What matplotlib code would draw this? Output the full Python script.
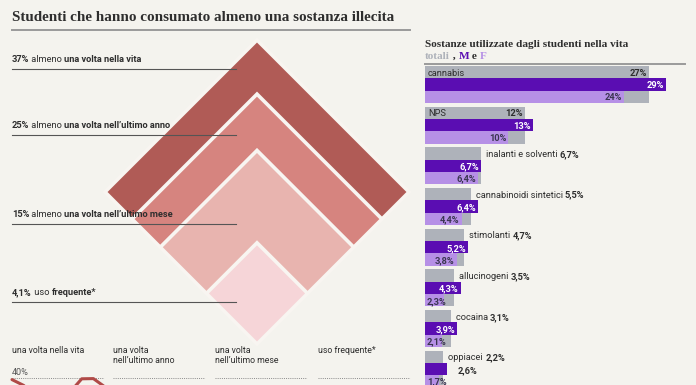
import matplotlib
matplotlib.use('Agg')
import matplotlib.pyplot as plt
from matplotlib.patches import Polygon
import numpy as np

# ---------------- data ----------------
title = "Studenti che hanno consumato almeno una sostanza illecita"
pyr_values = [37, 25, 15, 4.1]
pyr_pct = ["37%", "25%", "15%", "4,1%"]
pyr_pre = [" almeno ", " almeno ", " almeno ", " uso "]
pyr_bold = ["una volta nella vita", "una volta nell\u2019ultimo anno",
            "una volta nell\u2019ultimo mese", "frequente*"]
pyr_colors = ["#b05b56", "#d6847f", "#e8b4af", "#f6d5d8"]

substances = ["cannabis", "NPS", "inalanti e solventi", "cannabinoidi sintetici",
              "stimolanti", "allucinogeni", "cocaina", "oppiacei"]
totals = [27, 12, 6.7, 5.5, 4.7, 3.5, 3.1, 2.2]
males = [29, 13, 6.7, 6.4, 5.2, 4.3, 3.9, 2.6]
females = [24, 10, 6.4, 4.4, 3.8, 2.3, 2.1, 1.7]

trend_labels = ["una volta nella vita", "una volta\nnell\u2019ultimo anno",
                "una volta\nnell\u2019ultimo mese", "uso frequente*"]
trend_life = [39.2, 36.3, 31.0, 29.0, 30.5, 33.0, 39.6, 39.7, 35.5]

# ---------------- style ----------------
W, H = 696, 385
BG = '#f4f3ee'
DARK = '#2e2e2e'
GREY_BAR = '#aeb2ba'
M_COL = '#5a0db2'
F_COL = '#b690e6'
SANS = ['Roboto', 'DejaVu Sans']
SERIF = ['Liberation Serif', 'DejaVu Serif']

def fmt(v):
    if v >= 10:
        return f"{v:.0f}%"
    return f"{v:.1f}%".replace('.', ',')

fig = plt.figure(figsize=(W / 100, H / 100), dpi=100, facecolor=BG)
ax = fig.add_axes([0, 0, 1, 1])
ax.set_xlim(0, W)
ax.set_ylim(H, 0)
ax.axis('off')
ax.set_zorder(5)
renderer = fig.canvas.get_renderer()

def runs(x, y, parts, size, va='baseline', ha='left', zorder=5):
    """parts: list of (text, weight, color). Drawn in main pixel axes."""
    objs = []
    widths = []
    for s, wgt, col in parts:
        t = ax.text(0, y, s, fontsize=size, fontweight=wgt, color=col,
                    family=SANS, va=va, ha='left', zorder=zorder)
        ext = t.get_window_extent(renderer)
        objs.append(t)
        widths.append(ext.width)
    total = sum(widths)
    cx = x - total if ha == 'right' else x
    for t, w in zip(objs, widths):
        t.set_x(cx)
        cx += w
    return total

# ---------------- title ----------------
ax.text(12, 21, title, fontsize=10.9, fontweight='bold', family=SERIF,
        color=DARK, va='baseline')
ax.plot([12, 410], [30, 30], color='#9a9a9a', lw=1.4)

# ---------------- nested diamonds ----------------
cx, by = 257, 344
k = 152 / np.sqrt(pyr_values[0])
for v, col in zip(pyr_values, pyr_colors):
    h = k * np.sqrt(v)
    pts = [(cx, by), (cx + h, by - h), (cx, by - 2 * h), (cx - h, by - h)]
    ax.add_patch(Polygon(pts, closed=True, facecolor=col, edgecolor='#f8f5f1',
                         lw=2.6, zorder=2, joinstyle='miter'))

label_y = [62, 128, 217, 295]
for i in range(4):
    runs(12, label_y[i], [(pyr_pct[i], 'bold', DARK), (pyr_pre[i], 'normal', DARK),
                          (pyr_bold[i], 'bold', DARK)], 6.7, zorder=6)
    ax.plot([12, 236], [label_y[i] + 7, label_y[i] + 7], color='#555555', lw=0.8, zorder=6)

# ---------------- bottom small multiples ----------------
px0 = [12, 113, 215, 318]
for i, lab in enumerate(trend_labels):
    ax.text(px0[i], 346, lab, fontsize=6.3, family=SANS, color=DARK, va='top',
            linespacing=1.1)
    ax.plot([px0[i], px0[i] + 92], [378, 378], color='#8a8a8a', lw=0.7,
            ls=(0, (1, 1.2)))
ax.text(12, 375, "40%", fontsize=6.6, family=SANS, color='#555555', va='baseline')

# line chart axes placed so 40% sits on the dotted line (mostly off-canvas)
tax = fig.add_axes([12 / W, (H - 378 - 60) / H, 93 / W, 60 / H])
tax.set_xlim(0, len(trend_life) - 1)
tax.set_ylim(10, 40)
tax.axis('off')
tax.set_zorder(6)
tax.plot(range(len(trend_life)), trend_life, color='#b04a47', lw=2.2,
         solid_capstyle='round', clip_on=False)

# ---------------- right bar chart ----------------
ax.text(425, 47, "Sostanze utilizzate dagli studenti nella vita", fontsize=8.1,
        fontweight='bold', family=SERIF, color=DARK, va='baseline')
hx = 425
for s, wgt, col in [("totali", 'bold', GREY_BAR), (" , ", 'bold', DARK),
                    ("M", 'bold', M_COL), (" e ", 'bold', DARK), ("F", 'bold', F_COL)]:
    t = ax.text(hx, 59, s, fontsize=8.1, fontweight=wgt, family=SERIF, color=col,
                va='baseline')
    hx += t.get_window_extent(renderer).width
ax.plot([425, 685], [63.5, 63.5], color='#9a9a9a', lw=1.4)

pitch = 3.3
bx0, bx1, by0 = 425, 685, 66
scale = 8.31
bax = fig.add_axes([bx0 / W, 0, (bx1 - bx0) / W, (H - by0) / H])
bax.set_zorder(1)
bax.set_xlim(0, (bx1 - bx0) / scale)
rows_px = 12.33
bax.set_ylim((H - by0) / rows_px, 0)
bax.axis('off')
n = len(substances)
gy = np.arange(n) * pitch
bax.barh(gy + 1.5, totals, height=3, color=GREY_BAR, align='center', zorder=2)
bax.barh(gy + 1.5, males, height=1, color=M_COL, align='center', zorder=3)
bax.barh(gy + 2.5, females, height=1, color=F_COL, align='center', zorder=3)

def to_main(xd, yd):
    d = bax.transData.transform((xd, yd))
    return ax.transData.inverted().transform(d)

LS = 6.7
for i in range(n):
    x_end, y_top = to_main(totals[i], gy[i] + 0.5)
    x_start, _ = to_main(0, 0)
    if totals[i] >= 10:
        runs(x_start + 3, y_top, [(substances[i], 'normal', DARK)], LS, va='center_baseline')
        runs(x_end - 2, y_top, [(fmt(totals[i]), 'bold', DARK)], LS, va='center_baseline', ha='right')
    else:
        runs(x_end + 5, y_top, [(substances[i] + " ", 'normal', DARK),
                                (fmt(totals[i]), 'bold', DARK)], LS, va='center_baseline')
    xm, ym = to_main(males[i], gy[i] + 1.5)
    if males[i] >= 3:
        runs(xm - 2, ym, [(fmt(males[i]), 'bold', 'white')], LS, va='center_baseline', ha='right')
    else:
        runs(xm + 11, ym, [(fmt(males[i]), 'bold', DARK)], LS, va='center_baseline')
    xf, yf = to_main(females[i], gy[i] + 2.5)
    if females[i] >= 3:
        runs(xf - 2, yf, [(fmt(females[i]), 'bold', '#3a3550')], LS, va='center_baseline', ha='right')
    else:
        runs(x_start + 2, min(yf, 381), [(fmt(females[i]), 'bold', '#3a3550')], LS, va='center_baseline')

fig.savefig('out.png', dpi=100, facecolor=BG)
